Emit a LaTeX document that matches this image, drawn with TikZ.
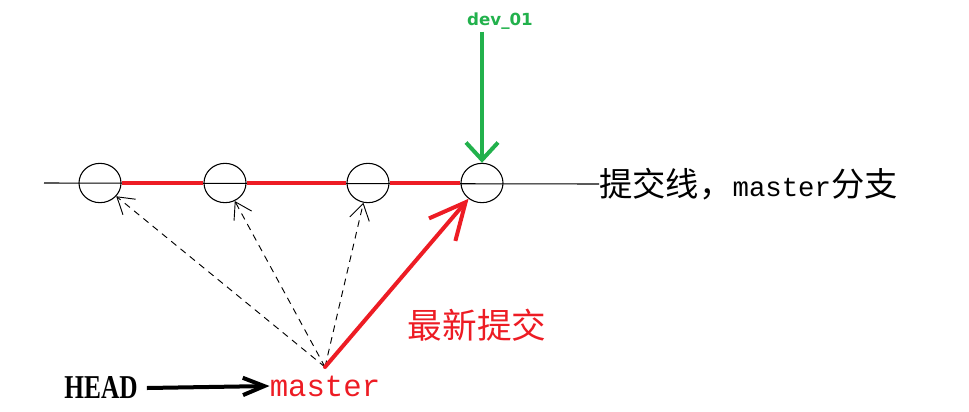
\documentclass[tikz,border=0pt]{standalone}
\usepackage{fontspec}
\setmainfont{Liberation Serif}
\newfontfamily\cjk{Noto Sans CJK SC}
\newfontfamily\monof{Liberation Mono}
\newfontfamily\devfont{DejaVu Sans}
\usetikzlibrary{arrows.meta,shapes.geometric,calc}
\definecolor{pred}{RGB}{237,28,36}
\definecolor{pgreen}{RGB}{34,177,76}
\tikzset{
  commit/.style={ellipse,draw,line width=0.8pt,minimum width=31.5pt,minimum height=29.5pt,inner sep=0pt},
  dasharrow/.style={line width=0.7pt,dash pattern=on 5pt off 4pt,-{Straight Barb[length=12pt,width=15pt,line width=0.7pt]}},
  redarrow/.style={pred,line width=3pt,line cap=round,-{Straight Barb[length=27pt,width=26pt]}},
  greenarrow/.style={pgreen,line width=3pt,-{Straight Barb[length=13pt,width=24pt]}},
  headarrow/.style={line width=3pt,-{Straight Barb[length=16pt,width=13pt]}},
}
\begin{document}
\begin{tikzpicture}[x=0.75pt,y=-0.75pt]
\useasboundingbox (0,0) rectangle (969,411);
% commit line
\coordinate (ls) at (44,183);
\node[anchor=west,inner sep=0pt,font=\fontsize{25}{30}\selectfont] (lbl) at (599,184) {{\cjk 提交线，}{\monof\fontsize{20.5}{25}\selectfont master}{\cjk 分支}};
\draw[line width=0.8pt] (ls) -- (lbl.west);
\node[commit] (c1) at (100,183) {};
\node[commit] (c2) at (225,183) {};
\node[commit] (c3) at (368,183) {};
\node[commit] (c4) at (482,183) {};
\draw[pred,line width=3pt] (c1.east) -- (c2.west);
\draw[pred,line width=3pt] (c2.east) -- (c3.west);
\draw[pred,line width=3pt] (c3.east) -- (c4.west);
% dev_01
\node[pgreen,inner sep=0pt,font=\devfont\bfseries\fontsize{12.5}{15}\selectfont] (dev) at (500,21) {dev\_01};
\draw[greenarrow] (dev.south -| c4) ++(0,2) -- (c4.north);
% master and HEAD
\node[pred,inner sep=0pt,font=\monof\fontsize{23}{27}\selectfont] (master) at (325,386) {master};
\node[inner sep=0pt] (head) at (101,388) {\scalebox{0.76}[1]{\fontsize{25}{30}\selectfont\bfseries HEAD}};
\draw[headarrow] (head.east) ++(9,0) -- (master.west);
\coordinate (hub) at (325,367);
\draw[dasharrow] (hub) -- (c1);
\draw[dasharrow] (hub) -- (c2);
\draw[dasharrow] (hub) -- (c3);
\draw[redarrow] (hub) -- (c4);
\node[pred,inner sep=0pt,font=\cjk\fontsize{26}{30}\selectfont] (newest) at (477,325) {最新提交};
\end{tikzpicture}
\end{document}
